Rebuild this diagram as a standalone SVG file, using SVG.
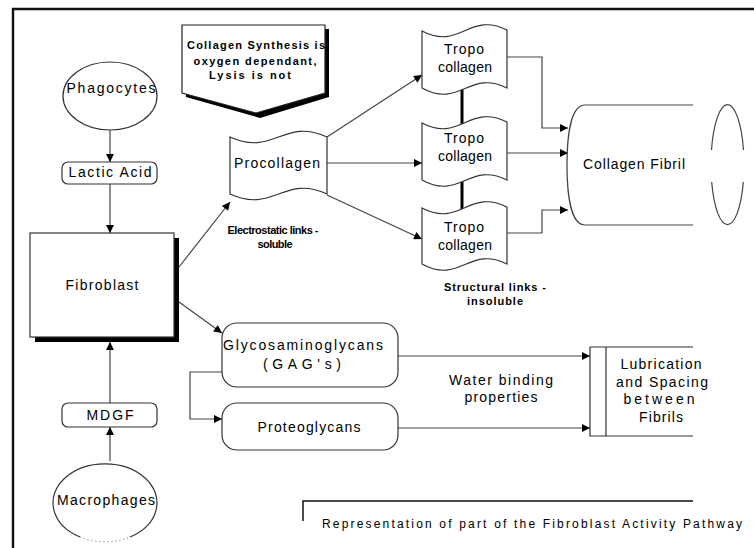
<svg xmlns="http://www.w3.org/2000/svg" width="754" height="548" viewBox="0 0 754 548">
<defs>
<marker id="ah" viewBox="0 0 10 10" refX="10" refY="5" markerWidth="9" markerHeight="8" markerUnits="userSpaceOnUse" orient="auto">
<path d="M0,0 L10,5 L0,10 z" fill="#000"/>
</marker>
<style>
.ln{fill:none;stroke:#444;stroke-width:1.2}
.sh{fill:#fff;stroke:#333;stroke-width:1.2}
.t{font-family:"Liberation Sans",Arial,sans-serif;font-size:14px;fill:#000;text-anchor:middle}
.b{font-family:"Liberation Sans",Arial,sans-serif;font-size:11px;font-weight:bold;fill:#000;text-anchor:middle}
.s{font-family:"Liberation Sans",Arial,sans-serif;font-size:12px;fill:#000}
</style>
</defs>
<rect width="754" height="548" fill="#fff"/>
<path d="M13,548 V9 H754" fill="none" stroke="#111" stroke-width="2.4"/>

<g id="connectors">
<line class="ln" x1="110" y1="130" x2="110" y2="162" marker-end="url(#ah)"/>
<line class="ln" x1="110" y1="184" x2="110" y2="233" marker-end="url(#ah)"/>
<line class="ln" x1="110" y1="403" x2="110" y2="342" marker-end="url(#ah)"/>
<line class="ln" x1="110" y1="461" x2="110" y2="427" marker-end="url(#ah)"/>
<line class="ln" x1="179" y1="267" x2="230" y2="202" marker-end="url(#ah)"/>
<line class="ln" x1="179" y1="302" x2="222" y2="333" marker-end="url(#ah)"/>
<line class="ln" x1="327" y1="137" x2="422" y2="75" marker-end="url(#ah)"/>
<line class="ln" x1="327" y1="163" x2="422" y2="163" marker-end="url(#ah)"/>
<line class="ln" x1="327" y1="195" x2="422" y2="239" marker-end="url(#ah)"/>
<path class="ln" d="M507,57 H542 V128 H568" marker-end="url(#ah)"/>
<line class="ln" x1="507" y1="153" x2="568" y2="153" marker-end="url(#ah)"/>
<path class="ln" d="M507,233 H542 V210 H568" marker-end="url(#ah)"/>
<line x1="462" y1="86" x2="462" y2="124" stroke="#000" stroke-width="3"/>
<line x1="462" y1="174" x2="462" y2="211" stroke="#000" stroke-width="3"/>
<path class="ln" d="M222,372 H190 V419 H222" marker-end="url(#ah)"/>
<line class="ln" x1="398" y1="356" x2="590" y2="356" marker-end="url(#ah)"/>
<line class="ln" x1="398" y1="428" x2="590" y2="428" marker-end="url(#ah)"/>
</g>

<g id="phagocytes">
<ellipse class="sh" cx="110" cy="96" rx="47" ry="34"/>
<text class="t" x="111" y="93" textLength="89" lengthAdjust="spacing">Phagocytes</text>
</g>

<g id="lactic-acid">
<rect class="sh" x="62" y="162" width="95" height="22" rx="6"/>
<text class="t" x="110" y="177" textLength="83" lengthAdjust="spacing">Lactic Acid</text>
</g>

<g id="fibroblast">
<rect x="35" y="238" width="144" height="104" fill="#000"/>
<rect class="sh" x="30" y="233" width="144" height="104"/>
<text class="t" x="102" y="290" textLength="73" lengthAdjust="spacing">Fibroblast</text>
</g>

<g id="mdgf">
<rect class="sh" x="62" y="403" width="95" height="24" rx="6"/>
<text class="t" x="110" y="420" textLength="47" lengthAdjust="spacing">MDGF</text>
</g>

<g id="macrophages">
<path class="sh" d="M80,537 A52,39 0 1 1 130,537"/>
<path d="M80,537 A52,39 0 0 0 130,537" fill="none" stroke="#666" stroke-width="1" stroke-dasharray="1,3"/>
<text class="t" x="106" y="505" textLength="98" lengthAdjust="spacing">Macrophages</text>
</g>

<g id="note">
<path d="M186,29 H329 V97 L260,118 L186,97 Z" fill="#000"/>
<path d="M182,25 H325 V93 L256,113 L182,93 Z" fill="#fff" stroke="#222" stroke-width="1.2"/>
<text class="b" x="256" y="49" textLength="138" lengthAdjust="spacing">Collagen Synthesis is</text>
<text class="b" x="255" y="65" textLength="123" lengthAdjust="spacing">oxygen dependant,</text>
<text class="b" x="250" y="79" textLength="82" lengthAdjust="spacing">Lysis is not</text>
</g>

<g id="procollagen">
<path class="sh" d="M230,137 C273,157 284,117 327,137 L327,194 C284,174 273,214 230,194 Z"/>
<text class="t" x="277" y="168" textLength="86" lengthAdjust="spacing">Procollagen</text>
</g>
<text class="b" x="273" y="234" textLength="91" lengthAdjust="spacing">Electrostatic links -</text>
<text class="b" x="275" y="248" textLength="35" lengthAdjust="spacing">soluble</text>

<g id="tropo1">
<path class="sh" d="M422,31 C460,51 469,11 507,30 L507,88 C469,69 460,109 422,88 Z"/>
<text class="t" x="464" y="54" textLength="40" lengthAdjust="spacing">Tropo</text>
<text class="t" x="465" y="72" textLength="54" lengthAdjust="spacing">collagen</text>
</g>
<g id="tropo2">
<path class="sh" d="M422,123 C460,143 469,103 507,122 L507,180 C469,161 460,201 422,180 Z"/>
<text class="t" x="464" y="143" textLength="40" lengthAdjust="spacing">Tropo</text>
<text class="t" x="465" y="161" textLength="54" lengthAdjust="spacing">collagen</text>
</g>
<g id="tropo3">
<path class="sh" d="M422,208 C460,228 469,188 507,207 L507,264 C469,245 460,285 422,264 Z"/>
<text class="t" x="464" y="232" textLength="40" lengthAdjust="spacing">Tropo</text>
<text class="t" x="465" y="250" textLength="54" lengthAdjust="spacing">collagen</text>
</g>
<text class="b" x="495" y="291" textLength="102" lengthAdjust="spacing">Structural links -</text>
<text class="b" x="495" y="305" textLength="56" lengthAdjust="spacing">insoluble</text>

<g id="collagen-fibril">
<path class="ln" d="M693,105 H585 C571,105 567,135 567,165 C567,195 571,225 585,225 H693" stroke="#333"/>
<path class="ln" d="M711.5,150 A16.5,60 0 0 1 743.5,150" stroke="#333"/>
<path class="ln" d="M711.7,182 A16.5,60 0 0 0 743.3,182" stroke="#333"/>
<text class="t" x="634" y="169" textLength="102" lengthAdjust="spacing">Collagen Fibril</text>
</g>

<g id="gag">
<rect class="sh" x="222" y="323" width="176" height="64" rx="15"/>
<text class="t" x="303" y="350" textLength="160" lengthAdjust="spacing">Glycosaminoglycans</text>
<text class="t" x="302" y="369" textLength="78" lengthAdjust="spacing">(GAG's)</text>
</g>

<g id="proteoglycans">
<rect class="sh" x="222" y="403" width="176" height="47" rx="15"/>
<text class="t" x="309" y="432" textLength="103" lengthAdjust="spacing">Proteoglycans</text>
</g>

<text class="t" x="501" y="385" textLength="104" lengthAdjust="spacing">Water binding</text>
<text class="t" x="501" y="402" textLength="73" lengthAdjust="spacing">properties</text>

<g id="lubrication">
<path d="M693,347 H590 V436 H693 M606,347 V436" fill="none" stroke="#333" stroke-width="1.2"/>
<text class="t" x="661" y="369" textLength="81" lengthAdjust="spacing">Lubrication</text>
<text class="t" x="662" y="387" textLength="92" lengthAdjust="spacing">and Spacing</text>
<text class="t" x="659" y="404" textLength="71" lengthAdjust="spacing">between</text>
<text class="t" x="661" y="422" textLength="44" lengthAdjust="spacing">Fibrils</text>
</g>

<g id="caption">
<path d="M303,521 V501 H693" fill="none" stroke="#111" stroke-width="1.5"/>
<text class="s" x="322" y="528" textLength="420" lengthAdjust="spacing">Representation of part of the Fibroblast Activity Pathway</text>
</g>
</svg>
